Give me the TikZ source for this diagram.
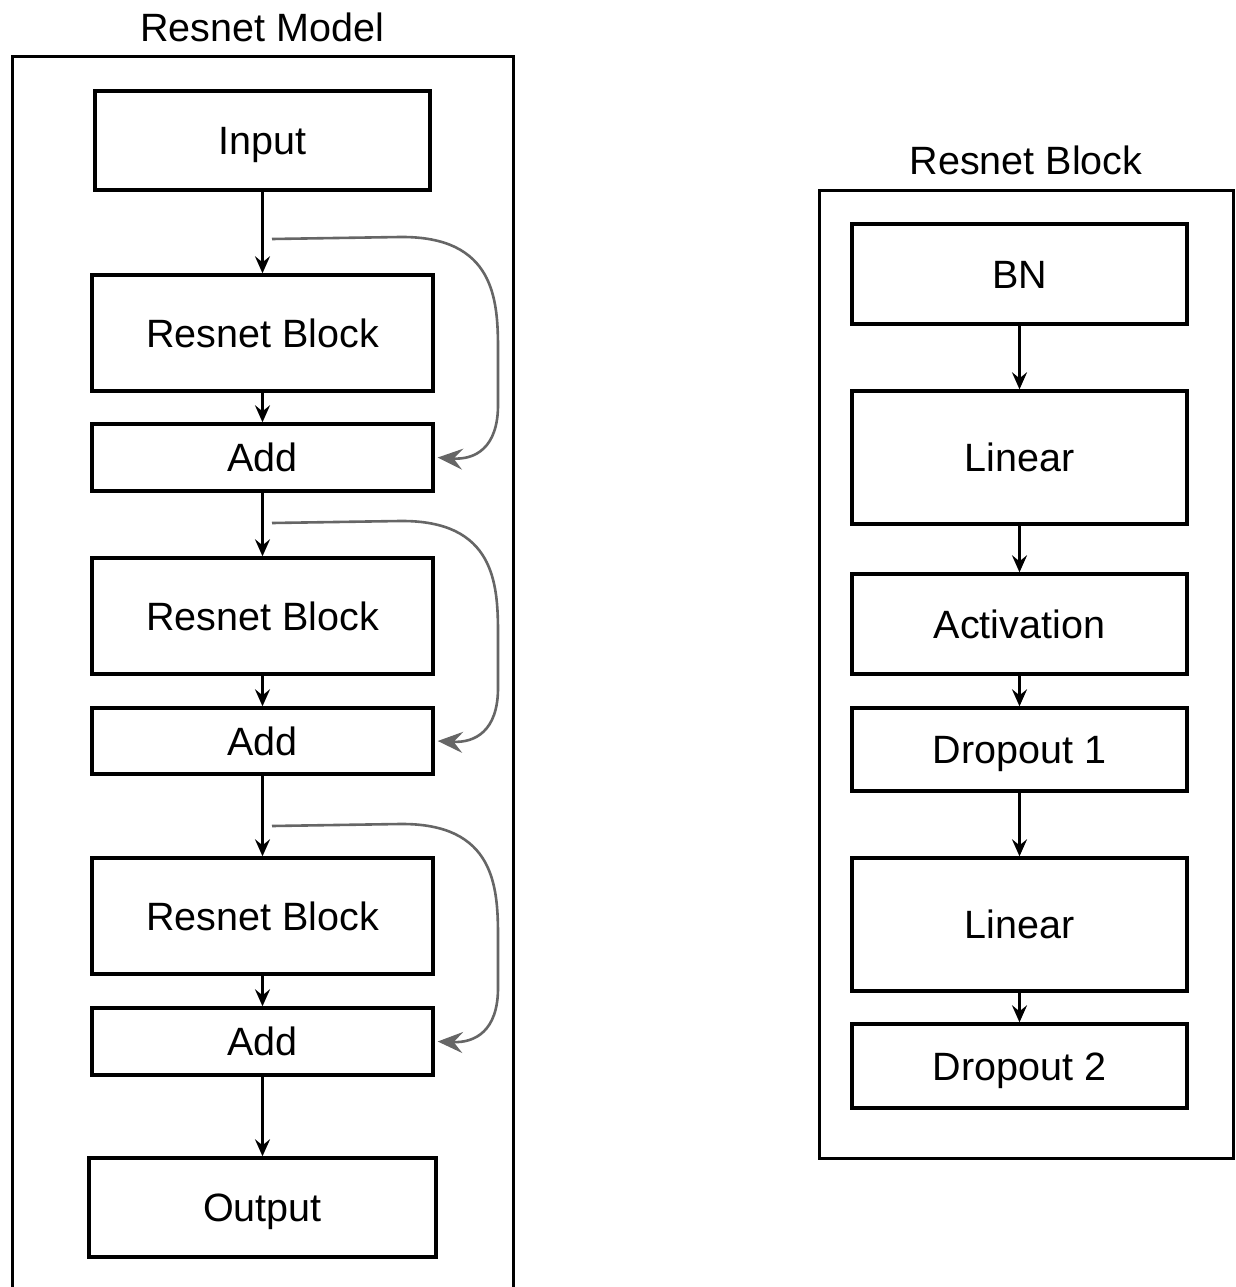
\documentclass[tikz,border=0pt]{standalone}
\usepackage{fontspec}
\setmainfont{Liberation Sans}
\usetikzlibrary{arrows.meta}
\begin{document}
\begin{tikzpicture}[x=1pt,y=-1pt,
  box/.style={draw, line width=3.4pt, inner sep=0pt, minimum width=341pt,
    text height=28.3pt, text depth=0pt,
    font=\fontsize{39.5}{46}\selectfont},
  frame/.style={draw, line width=3pt},
  title/.style={font=\fontsize{39.5}{46}\selectfont, inner sep=0pt,
    text height=28.3pt, text depth=0pt},
  flow/.style={line width=2.4pt, -{Stealth[length=17pt,width=15pt,inset=6pt]}},
  skip/.style={line width=2.6pt, draw=black!60, -{Stealth[length=25pt,width=21pt,inset=9pt]}}]
\useasboundingbox (0,0) rectangle (1235,1287);

% Resnet Model frame (open at the bottom)
\draw[frame] (12,1290) -- (12,57) -- (513,57) -- (513,1290);
\node[title] (mtitle) at (262,27) {Resnet Model};

\node[box, minimum width=335pt, minimum height=99pt] (input) at (262.5,140.5) {Input};
\node[box, minimum height=116pt] (rb1) at (262.5,333) {Resnet Block};
\node[box, minimum height=67pt] (add1) at (262.5,457.5) {Add};
\node[box, minimum height=116pt] (rb2) at (262.5,616) {Resnet Block};
\node[box, minimum height=66pt] (add2) at (262.5,741) {Add};
\node[box, minimum height=116pt] (rb3) at (262.5,916) {Resnet Block};
\node[box, minimum height=67pt] (add3) at (262.5,1041.5) {Add};
\node[box, minimum width=347pt, minimum height=99pt] (output) at (262.5,1207.5) {Output};

\draw[flow] (input) -- (rb1);
\draw[flow] (rb1) -- (add1);
\draw[flow] (add1) -- (rb2);
\draw[flow] (rb2) -- (add2);
\draw[flow] (add2) -- (rb3);
\draw[flow] (rb3) -- (add3);
\draw[flow] (add3) -- (output);

% branch points of the skip connections
\coordinate (s1) at (272,239);
\coordinate (s2) at (272,523);
\coordinate (s3) at (272,826);

\draw[skip] (s1) -- (400,237) .. controls (495,236) and (498,300) .. (498,350)
  -- (498,405) .. controls (498,448) and (475,460) .. ([xshift=3pt]add1.east);
\draw[skip] (s2) -- (400,521) .. controls (495,520) and (498,584) .. (498,634)
  -- (498,688) .. controls (498,731) and (475,743) .. ([xshift=3pt]add2.east);
\draw[skip] (s3) -- (400,824) .. controls (495,823) and (498,887) .. (498,937)
  -- (498,988) .. controls (498,1031) and (475,1043) .. ([xshift=3pt]add3.east);

% Resnet Block frame
\draw[frame] (819,190) rectangle (1233,1158);
\node[title] (btitle) at (1026,160) {Resnet Block};

\node[box, minimum width=335pt, minimum height=100pt] (bn) at (1019.5,274) {BN};
\node[box, minimum width=335pt, minimum height=133pt] (lin1) at (1019.5,457.5) {Linear};
\node[box, minimum width=335pt, minimum height=100pt] (act) at (1019.5,624) {Activation};
\node[box, minimum width=335pt, minimum height=83pt] (drop1) at (1019.5,749.5) {Dropout 1};
\node[box, minimum width=335pt, minimum height=133pt] (lin2) at (1019.5,924.5) {Linear};
\node[box, minimum width=335pt, minimum height=84pt] (drop2) at (1019.5,1066) {Dropout 2};

\draw[flow] (bn) -- (lin1);
\draw[flow] (lin1) -- (act);
\draw[flow] (act) -- (drop1);
\draw[flow] (drop1) -- (lin2);
\draw[flow] (lin2) -- (drop2);
\end{tikzpicture}
\end{document}
